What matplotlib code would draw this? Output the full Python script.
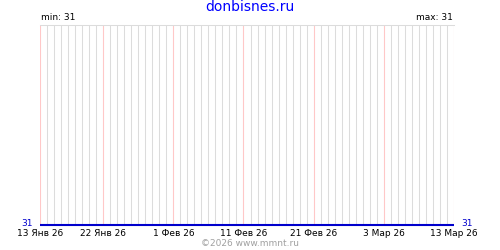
import matplotlib
matplotlib.use("Agg")
import matplotlib.pyplot as plt
import matplotlib.dates as mdates
import numpy as np
import pandas as pd

title = "donbisnes.ru"
start_date = "2026-01-13"
end_date = "2026-03-13"
value = 31
tick_dates = ["2026-01-13", "2026-01-22", "2026-02-01", "2026-02-11",
              "2026-02-21", "2026-03-03", "2026-03-13"]
tick_labels = ["13 Янв 26", "22 Янв 26", "1 Фев 26", "11 Фев 26",
               "21 Фев 26", "3 Мар 26", "13 Мар 26"]

dates = pd.date_range(start_date, end_date, freq="D")
values = np.full(len(dates), value)

fig = plt.figure(figsize=(5, 2.5), dpi=100)
ax = fig.add_axes([0.08, 0.1, 0.828, 0.8])

xd = mdates.date2num(dates)
ticks = mdates.date2num(pd.to_datetime(tick_dates))
for d in xd:
    ax.axvline(d, color="#dcdcdc", lw=0.75, zorder=1, snap=True)
for t in ticks:
    ax.axvline(t, color="#ffc8c8", lw=0.75, zorder=2, snap=True)

ax.plot(xd, values, color="#0000cc", lw=1.5, zorder=3,
        solid_capstyle="butt", clip_on=False)
ax.set_xlim(xd[0], xd[-1])
ax.set_ylim(value, value + 1)

for s in ["left", "right", "bottom"]:
    ax.spines[s].set_visible(False)
ax.spines["top"].set_color("#dcdcdc")
ax.spines["top"].set_linewidth(0.75)

ax.set_xticks(ticks)
ax.set_xticklabels(tick_labels, fontsize=6.5, family="DejaVu Sans")
ax.tick_params(axis="x", length=0, pad=3)
ax.set_yticks([])

fig.text(0.5, 0.972, title, color="#0000ff", fontsize=10, ha="center", va="center")
fig.text(0.082, 0.932, f"min: {value}", fontsize=6.5, ha="left", va="center")
fig.text(0.905, 0.932, f"max: {value}", fontsize=6.5, ha="right", va="center")
fig.text(0.066, 0.104, str(value), color="#0000cc", fontsize=6.5, ha="right", va="center")
fig.text(0.922, 0.104, str(value), color="#0000cc", fontsize=6.5, ha="left", va="center")
fig.text(0.5, 0.028, "©2026 www.mmnt.ru", color="#a0a0a0", fontsize=6.5, ha="center", va="center")

fig.savefig("out.png", dpi=100)
